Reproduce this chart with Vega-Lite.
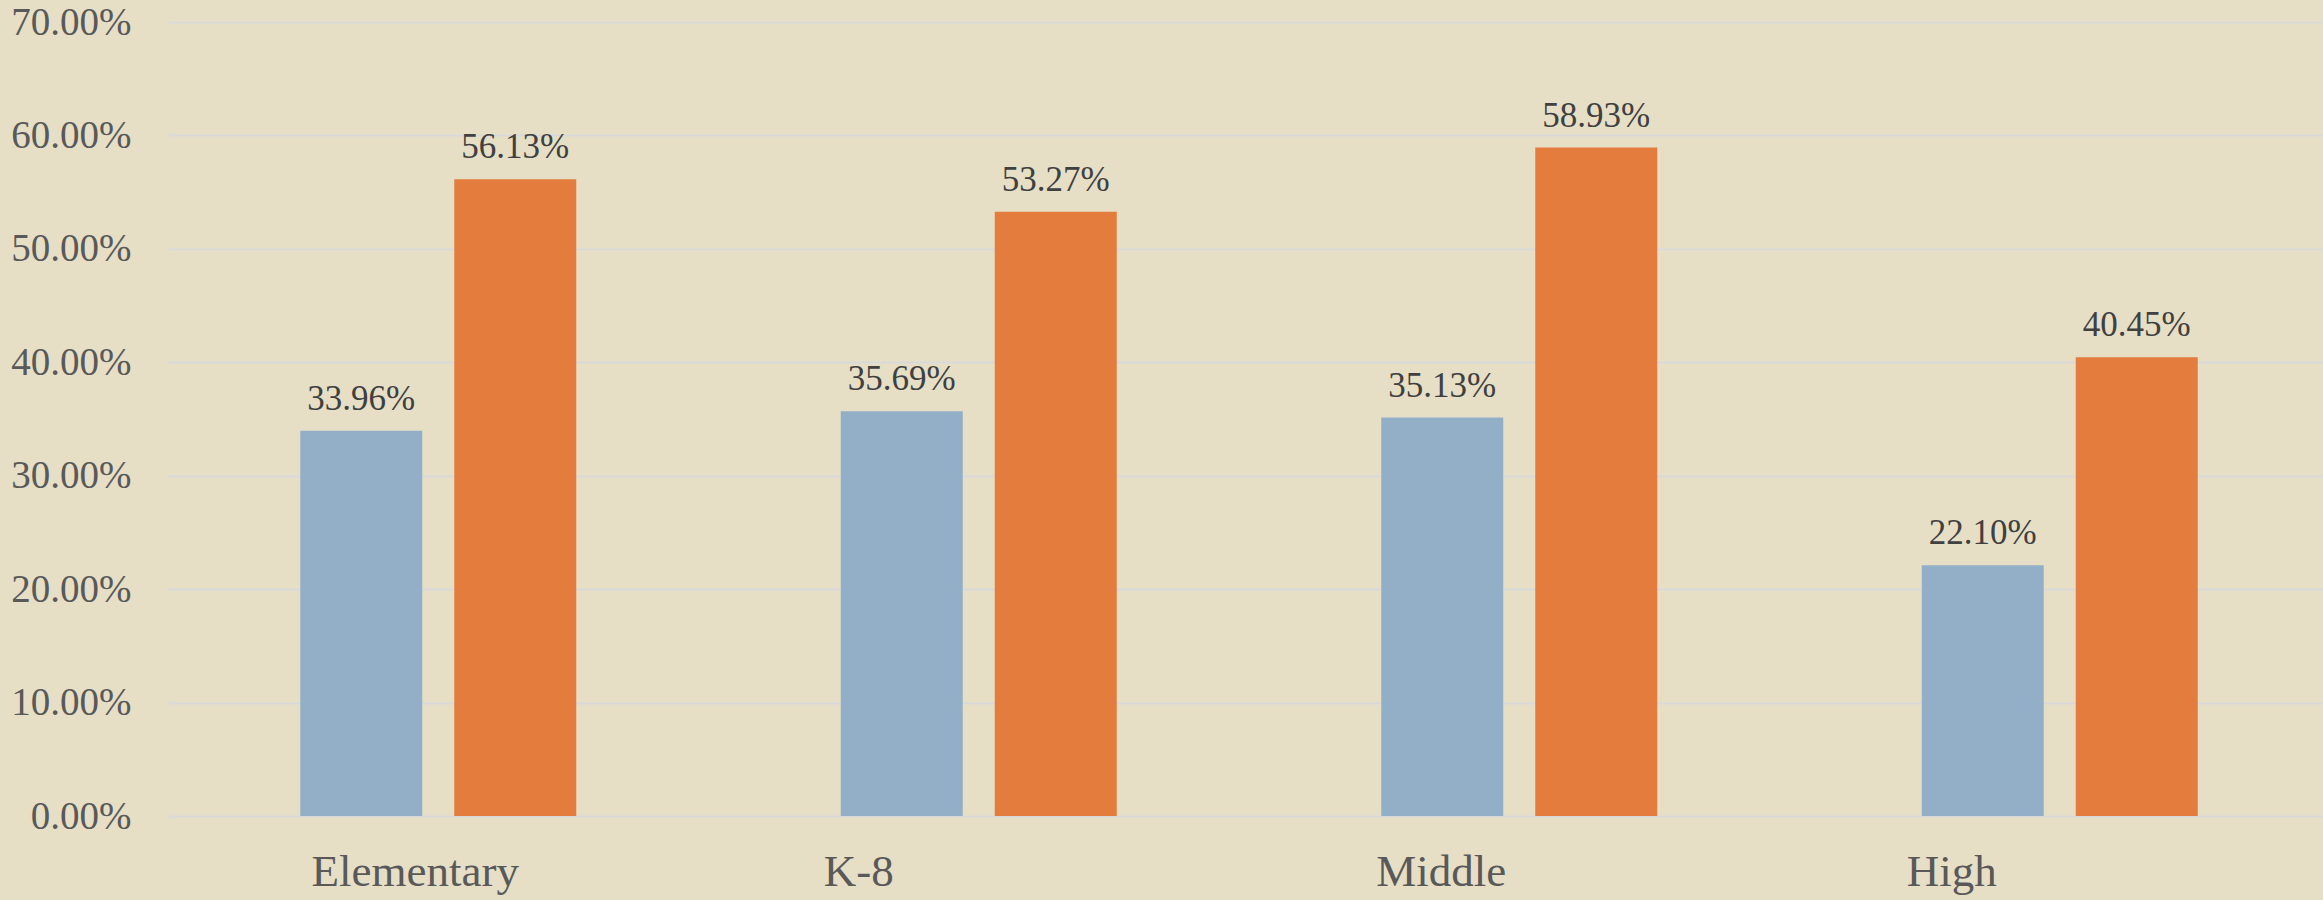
{
  "$schema": "https://vega.github.io/schema/vega-lite/v6.json",
  "width": 2155,
  "height": 794,
  "autosize": {"type": "none"},
  "padding": {"left": 168, "top": 22, "right": 0, "bottom": 84},
  "background": "#E6DFC6",
  "config": {
    "view": {"stroke": null},
    "font": "Liberation Serif"
  },
  "data": {
    "values": [
      {"level": "Elementary", "series": "Series 1", "value": 0.3396},
      {"level": "Elementary", "series": "Series 2", "value": 0.5613},
      {"level": "K-8", "series": "Series 1", "value": 0.3569},
      {"level": "K-8", "series": "Series 2", "value": 0.5327},
      {"level": "Middle", "series": "Series 1", "value": 0.3513},
      {"level": "Middle", "series": "Series 2", "value": 0.5893},
      {"level": "High", "series": "Series 1", "value": 0.2210},
      {"level": "High", "series": "Series 2", "value": 0.4045}
    ]
  },
  "encoding": {
    "x": {
      "field": "level",
      "type": "nominal",
      "sort": ["Elementary", "K-8", "Middle", "High"],
      "scale": {"range": [0, 2162], "paddingInner": 0.4894, "paddingOuter": 0.2447},
      "axis": {
        "title": null,
        "domain": false,
        "ticks": false,
        "grid": false,
        "labelAngle": 0,
        "labelLimit": 0,
        "labelFont": "Liberation Serif",
        "labelFontSize": 45,
        "labelColor": "#595959",
        "labelBaseline": "alphabetic",
        "labelPadding": 69,
        "labelOffset": {
          "condition": [
            {"test": "datum.value === 'K-8'", "value": -120},
            {"test": "datum.value === 'Middle'", "value": -78},
            {"test": "datum.value === 'High'", "value": -108}
          ],
          "value": -23
        }
      }
    },
    "xOffset": {
      "field": "series",
      "type": "nominal",
      "scale": {"paddingInner": 0.2078, "paddingOuter": 0}
    },
    "y": {
      "field": "value",
      "type": "quantitative",
      "scale": {"domain": [0, 0.7], "nice": false},
      "axis": {
        "title": null,
        "values": [0, 0.1, 0.2, 0.3, 0.4, 0.5, 0.6, 0.7],
        "format": ".2%",
        "domain": false,
        "ticks": false,
        "grid": true,
        "gridColor": "#D9D9D9",
        "gridWidth": 2,
        "labelFont": "Liberation Serif",
        "labelFontSize": 39,
        "labelColor": "#595959",
        "labelPadding": 37
      }
    }
  },
  "layer": [
    {
      "mark": {"type": "bar"},
      "encoding": {
        "color": {
          "field": "series",
          "type": "nominal",
          "scale": {"domain": ["Series 1", "Series 2"], "range": ["#93AFC8", "#E37C3D"]},
          "legend": null
        }
      }
    },
    {
      "mark": {
        "type": "text",
        "baseline": "alphabetic",
        "align": "center",
        "dy": -21,
        "fontSize": 35,
        "font": "Liberation Serif",
        "color": "#404040"
      },
      "encoding": {
        "text": {"field": "value", "type": "quantitative", "format": ".2%"}
      }
    }
  ]
}
